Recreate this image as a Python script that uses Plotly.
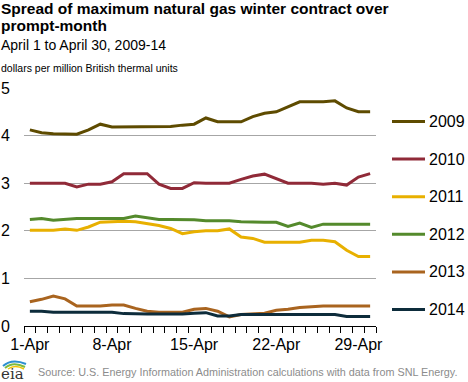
import plotly.graph_objects as go

days = ["1-Apr", "2-Apr", "3-Apr", "4-Apr", "5-Apr", "6-Apr", "7-Apr", "8-Apr", "9-Apr", "10-Apr",
        "11-Apr", "12-Apr", "13-Apr", "14-Apr", "15-Apr", "16-Apr", "17-Apr", "18-Apr", "19-Apr", "20-Apr",
        "21-Apr", "22-Apr", "23-Apr", "24-Apr", "25-Apr", "26-Apr", "27-Apr", "28-Apr", "29-Apr", "30-Apr"]
tick_labels = ["1-Apr", "8-Apr", "15-Apr", "22-Apr", "29-Apr"]
y_ticks = [0, 1, 2, 3, 4, 5]

s2009 = [4.12, 4.06, 4.04, 4.03, 4.03, 4.12, 4.24, 4.18, 4.18, 4.18,
         4.18, 4.18, 4.19, 4.22, 4.24, 4.37, 4.29, 4.29, 4.29, 4.40,
         4.47, 4.50, 4.61, 4.71, 4.71, 4.71, 4.73, 4.58, 4.50, 4.50]
s2010 = [3.00, 3.00, 3.00, 3.00, 2.92, 2.98, 2.98, 3.03, 3.20, 3.20,
         3.20, 2.98, 2.89, 2.89, 3.01, 3.00, 3.00, 3.00, 3.08, 3.15,
         3.19, 3.09, 3.00, 3.00, 3.00, 2.98, 3.00, 2.96, 3.13, 3.20]
s2011 = [2.01, 2.01, 2.01, 2.04, 2.01, 2.08, 2.18, 2.19, 2.20, 2.19,
         2.15, 2.11, 2.05, 1.94, 1.98, 2.00, 2.00, 2.04, 1.87, 1.84,
         1.76, 1.76, 1.76, 1.76, 1.80, 1.80, 1.77, 1.59, 1.46, 1.46]
s2012 = [2.24, 2.26, 2.22, 2.24, 2.26, 2.26, 2.26, 2.26, 2.26, 2.31,
         2.28, 2.24, 2.24, 2.24, 2.23, 2.21, 2.21, 2.21, 2.19, 2.18,
         2.18, 2.18, 2.09, 2.16, 2.07, 2.14, 2.14, 2.14, 2.14, 2.14]
s2013 = [0.51, 0.56, 0.63, 0.57, 0.42, 0.42, 0.42, 0.44, 0.44, 0.37,
         0.31, 0.29, 0.29, 0.29, 0.35, 0.37, 0.31, 0.19, 0.24, 0.25,
         0.27, 0.33, 0.35, 0.39, 0.41, 0.42, 0.42, 0.42, 0.42, 0.42]
s2014 = [0.31, 0.31, 0.29, 0.29, 0.29, 0.29, 0.29, 0.29, 0.26, 0.25,
         0.25, 0.25, 0.25, 0.25, 0.27, 0.28, 0.21, 0.21, 0.24, 0.24,
         0.24, 0.24, 0.24, 0.24, 0.24, 0.24, 0.24, 0.20, 0.20, 0.20]

series_names = ["2009", "2010", "2011", "2012", "2013", "2014"]
series_values = [s2009, s2010, s2011, s2012, s2013, s2014]
series_colors = ["#5E4B00", "#902A38", "#E8B000", "#548A2C", "#A9641F", "#0D2C3B"]

FONT = "Liberation Sans, Arial, sans-serif"

W, H = 468, 382
L, R, T, B = 24, 92, 88, 56
pw, ph = W - L - R, H - T - B


def px(xp):
    return (xp - L) / pw


def py(yp):
    return (H - B - yp) / ph


fig = go.Figure()
for name, vals, color in zip(series_names, series_values, series_colors):
    fig.add_trace(go.Scatter(
        x=days, y=vals, name=name, mode="lines",
        line=dict(color=color, width=3), hoverinfo="skip", showlegend=False,
    ))

# legend drawn as line samples + labels on the right
LEG_TOP, LEG_STEP = 121.5, 37.6
annotations = []
shapes = []
for i, (name, color) in enumerate(zip(series_names, series_colors)):
    yc = LEG_TOP + i * LEG_STEP
    shapes.append(dict(type="line", xref="paper", yref="paper",
                       x0=px(392), x1=px(425), y0=py(yc), y1=py(yc),
                       line=dict(color=color, width=3)))
    annotations.append(dict(text=name, xref="paper", yref="paper",
                            x=px(427), y=py(yc), xanchor="left", yanchor="middle",
                            showarrow=False, font=dict(family=FONT, size=16, color="black")))

annotations += [
    dict(text="<b>Spread of maximum natural gas winter contract over</b>",
         xref="paper", yref="paper", x=px(-1), y=py(8), xanchor="left", yanchor="middle",
         align="left", showarrow=False, font=dict(family=FONT, size=15.5, color="black")),
    dict(text="<b>prompt-month</b>",
         xref="paper", yref="paper", x=px(-1), y=py(25.5), xanchor="left", yanchor="middle",
         align="left", showarrow=False, font=dict(family=FONT, size=15.5, color="black")),
    dict(text="April 1 to April 30, 2009-14",
         xref="paper", yref="paper", x=px(-1), y=py(45), xanchor="left", yanchor="middle",
         align="left", showarrow=False, font=dict(family=FONT, size=14, color="black")),
    dict(text="dollars per million British thermal units",
         xref="paper", yref="paper", x=px(-1), y=py(68), xanchor="left", yanchor="middle",
         align="left", showarrow=False, font=dict(family=FONT, size=10.5, color="black")),
    dict(text="Source: U.S. Energy Information Administration calculations with data from SNL Energy.",
         xref="paper", yref="paper", x=px(36), y=py(372), xanchor="left", yanchor="middle",
         align="left", showarrow=False, font=dict(family=FONT, size=10.8, color="#8C8C8C")),
    dict(text="eia",
         xref="paper", yref="paper", x=px(-1), y=py(374), xanchor="left", yanchor="middle",
         align="left", showarrow=False,
         font=dict(family="DejaVu Serif, serif", size=15, color="#333333")),
]

shapes += [
    dict(type="path", xref="paper", yref="paper",
         path=f"M {px(3)},{py(366)} Q {px(12)},{py(358)} {px(26)},{py(364)}",
         line=dict(color="#2C8FD0", width=2)),
    dict(type="path", xref="paper", yref="paper",
         path=f"M {px(5)},{py(368)} Q {px(13)},{py(361)} {px(25)},{py(367)}",
         line=dict(color="#7DBB42", width=2)),
    dict(type="path", xref="paper", yref="paper",
         path=f"M {px(8)},{py(369)} Q {px(15)},{py(364)} {px(24)},{py(369)}",
         line=dict(color="#F2C200", width=1.5)),
]

fig.update_layout(
    width=W, height=H,
    margin=dict(l=L, r=R, t=T, b=B, pad=0),
    paper_bgcolor="white", plot_bgcolor="white",
    font=dict(family=FONT, size=16, color="black"),
    showlegend=False,
    xaxis=dict(
        type="category", categoryorder="array", categoryarray=days,
        range=[-0.5, 29.5], automargin=False,
        tickmode="array", tickvals=days,
        ticktext=[d if d in tick_labels else "" for d in days],
        tickangle=0,
        tickson="boundaries", ticks="outside", ticklen=6, tickcolor="black", tickwidth=1,
        showline=True, linecolor="black", linewidth=1,
        showgrid=False, zeroline=False,
        tickfont=dict(family=FONT, size=16, color="black"),
        ticklabelstandoff=4,
    ),
    yaxis=dict(
        range=[0, 5], tickmode="array", tickvals=y_ticks, automargin=False,
        showgrid=True, gridcolor="#A6A6A6", gridwidth=1,
        zeroline=False, showline=False, ticks="",
        tickfont=dict(family=FONT, size=16, color="black"),
        ticklabelstandoff=13,
    ),
    annotations=annotations,
    shapes=shapes,
)

fig.write_html("out.html", config={"displayModeBar": False},
               post_script="document.body.style.margin='0';document.body.style.padding='0';")
